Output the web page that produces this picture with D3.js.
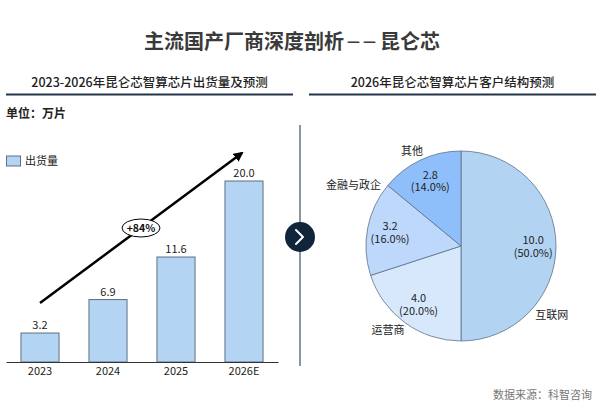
<!DOCTYPE html>
<html>
<head>
<meta charset="utf-8">
<script src="https://cdn.jsdelivr.net/npm/d3@7"></script>
<style>
	body { margin: 0; background: #fff; }
	text { font-family: "Noto Sans CJK SC", "Noto Sans", sans-serif; }
</style>
</head>
<body>
<script>
"use strict";

// bar chart data (万片)
const years = ["2023", "2024", "2025", "2026E"];
const shipments = [3.2, 6.9, 11.6, 20.0];
const growthLabel = "+84%";

// pie data, 2026 customer mix
const customers = ["互联网", "运营商", "金融与政企", "其他"];
const customerValues = [10.0, 4.0, 3.2, 2.8];

(function()
{
	const W = 600, H = 410;
	const navy = "#24364a";

	let svg = d3.select("body").append("svg")
		.attr("width", W)
		.attr("height", H);
	svg.append("rect")
		.attr("width", W)
		.attr("height", H)
		.attr("fill", "white");

	//main title: three pieces laid side by side, dashes smaller and spaced
	let titleParts = [
		{text: "主流国产厂商深度剖析", size: 20, font: null, dy: 0, gap: 3},
		{text: "——", size: 13, font: "DejaVu Sans", dy: -3.5, gap: 1},
		{text: "昆仑芯", size: 20, font: null, dy: 0, gap: 0}
	];
	let tg = svg.append("g");
	let tx = 0;
	for (let p of titleParts)
	{
		let t = tg.append("text")
			.attr("x", tx)
			.attr("y", 49 + p.dy)
			.attr("font-size", p.size)
			.attr("font-weight", "bold")
			.attr("fill", "#3a3a3a")
			.text(p.text);
		if (p.font)
			t.style("font-family", p.font).style("letter-spacing", "3px");
		tx += t.node().getComputedTextLength() + p.gap;
	}
	tg.attr("transform", "translate(" + (292 - tx / 2) + ",0)");

	//panel headings with underline
	let headings = [
		{text: "2023-2026年昆仑芯智算芯片出货量及预测", x0: 6, x1: 293},
		{text: "2026年昆仑芯智算芯片客户结构预测", x0: 309, x1: 596}
	];
	for (let h of headings)
	{
		svg.append("text")
			.attr("x", (h.x0 + h.x1) / 2)
			.attr("y", 87)
			.attr("text-anchor", "middle")
			.attr("font-size", 12.5)
			.attr("font-weight", 500)
			.attr("fill", "#222")
			.text(h.text);
		svg.append("line")
			.attr("x1", h.x0).attr("x2", h.x1)
			.attr("y1", 94.5).attr("y2", 94.5)
			.attr("stroke", navy)
			.attr("stroke-width", 2);
	}

	svg.append("text")
		.attr("x", 6)
		.attr("y", 117.5)
		.attr("font-size", 12)
		.attr("font-weight", "bold")
		.attr("fill", "#222")
		.text("单位：万片");

	//divider and chevron
	svg.append("line")
		.attr("x1", 300).attr("x2", 300)
		.attr("y1", 125).attr("y2", 366)
		.attr("stroke", "#3d4f63")
		.attr("stroke-width", 1.2);
	svg.append("circle")
		.attr("cx", 300).attr("cy", 237)
		.attr("r", 15)
		.attr("fill", "#10253a");
	svg.append("path")
		.attr("d", "M296,230 L303,237 L296,244")
		.attr("fill", "none")
		.attr("stroke", "white")
		.attr("stroke-width", 2)
		.attr("stroke-linecap", "round")
		.attr("stroke-linejoin", "round");

	//bar chart
	let x = d3.scaleBand()
		.domain(years)
		.range([6, 278])
		.paddingInner(0.44)
		.paddingOuter(0.22);
	let y = d3.scaleLinear()
		.domain([0, 20])
		.range([362, 181]);

	let bars = svg.append("g");
	bars.selectAll("rect")
		.data(shipments)
		.join("rect")
		.attr("x", (d, i) => x(years[i]))
		.attr("y", d => y(d))
		.attr("width", x.bandwidth())
		.attr("height", d => y(0) - y(d))
		.attr("fill", "#b3d5f3")
		.attr("stroke", "#5f6f80")
		.attr("stroke-width", 1);
	bars.selectAll("text")
		.data(shipments)
		.join("text")
		.attr("x", (d, i) => x(years[i]) + x.bandwidth() / 2)
		.attr("y", d => y(d) - 4)
		.attr("text-anchor", "middle")
		.attr("font-size", 11)
		.attr("fill", "#222")
		.text(d => d.toFixed(1));

	let xAxis = svg.append("g")
		.attr("transform", "translate(0," + y(0) + ")")
		.call(d3.axisBottom(x).tickSize(0).tickPadding(5));
	xAxis.select(".domain").attr("stroke", "#333").attr("stroke-width", 1.2);
	xAxis.selectAll("text")
		.attr("font-size", 11)
		.attr("fill", "#222")
		.style("font-family", "\"Noto Sans CJK SC\", sans-serif");

	//legend
	svg.append("rect")
		.attr("x", 6.5).attr("y", 156)
		.attr("width", 14).attr("height", 10)
		.attr("fill", "#b3d5f3")
		.attr("stroke", "#5f6f80");
	svg.append("text")
		.attr("x", 25).attr("y", 165)
		.attr("font-size", 11)
		.attr("fill", "#222")
		.text("出货量");

	//growth arrow
	svg.append("defs").append("marker")
		.attr("id", "head")
		.attr("viewBox", "0 0 10 10")
		.attr("refX", 8).attr("refY", 5)
		.attr("markerWidth", 4).attr("markerHeight", 4)
		.attr("orient", "auto")
		.append("path")
		.attr("d", "M0,0 L10,5 L0,10 z")
		.attr("fill", "black");
	svg.append("line")
		.attr("x1", 40).attr("y1", 303)
		.attr("x2", 242).attr("y2", 153)
		.attr("stroke", "black")
		.attr("stroke-width", 2.5)
		.attr("marker-end", "url(#head)");
	svg.append("ellipse")
		.attr("cx", 141).attr("cy", 228)
		.attr("rx", 19).attr("ry", 9)
		.attr("fill", "white")
		.attr("stroke", "black")
		.attr("stroke-width", 1);
	svg.append("text")
		.attr("x", 141).attr("y", 232)
		.attr("text-anchor", "middle")
		.attr("font-size", 10.5)
		.attr("font-weight", "bold")
		.attr("fill", "#111")
		.text(growthLabel);

	//pie
	let cx = 461, cy = 246, r = 95;
	let colors = ["#b2d4f2", "#d8e8fc", "#bdd8fb", "#8fbffa"];
	//where the outside label sits within each slice (0 = start, 1 = end)
	let labelFrac = [0.707, 0.57, 0.825, 0.46];
	let labelRad = [1.2, 1.17, 1.3, 1.13];
	let total = d3.sum(customerValues);
	let pie = d3.pie().sort(null)(customerValues);
	let arc = d3.arc().innerRadius(0).outerRadius(r);
	let inner = d3.arc().innerRadius(r * 0.76).outerRadius(r * 0.76);

	let pg = svg.append("g")
		.attr("transform", "translate(" + cx + "," + cy + ")");
	pg.selectAll("path")
		.data(pie)
		.join("path")
		.attr("d", arc)
		.attr("fill", (d, i) => colors[i])
		.attr("stroke", "#5d7188")
		.attr("stroke-width", 0.8);

	for (let i = 0; i < pie.length; ++i)
	{
		let d = pie[i];
		let c = inner.centroid(d);
		let t = pg.append("text")
			.attr("text-anchor", "middle")
			.attr("font-size", 11)
			.attr("fill", "#222");
		t.append("tspan").attr("x", c[0]).attr("y", c[1] - 2).text(d.value.toFixed(1));
		t.append("tspan").attr("x", c[0]).attr("y", c[1] + 10.5)
			.text("(" + (d.value / total * 100).toFixed(1) + "%)");

		let a = d.startAngle + (d.endAngle - d.startAngle) * labelFrac[i];
		let lr = r * labelRad[i];
		pg.append("text")
			.attr("x", Math.sin(a) * lr)
			.attr("y", -Math.cos(a) * lr + 4)
			.attr("text-anchor", "middle")
			.attr("font-size", 11)
			.attr("fill", "#222")
			.text(customers[i]);
	}

	//source
	svg.append("text")
		.attr("x", 592)
		.attr("y", 399)
		.attr("text-anchor", "end")
		.attr("font-size", 11)
		.attr("fill", "#777")
		.text("数据来源：科智咨询");
})();
</script>
</body>
</html>
